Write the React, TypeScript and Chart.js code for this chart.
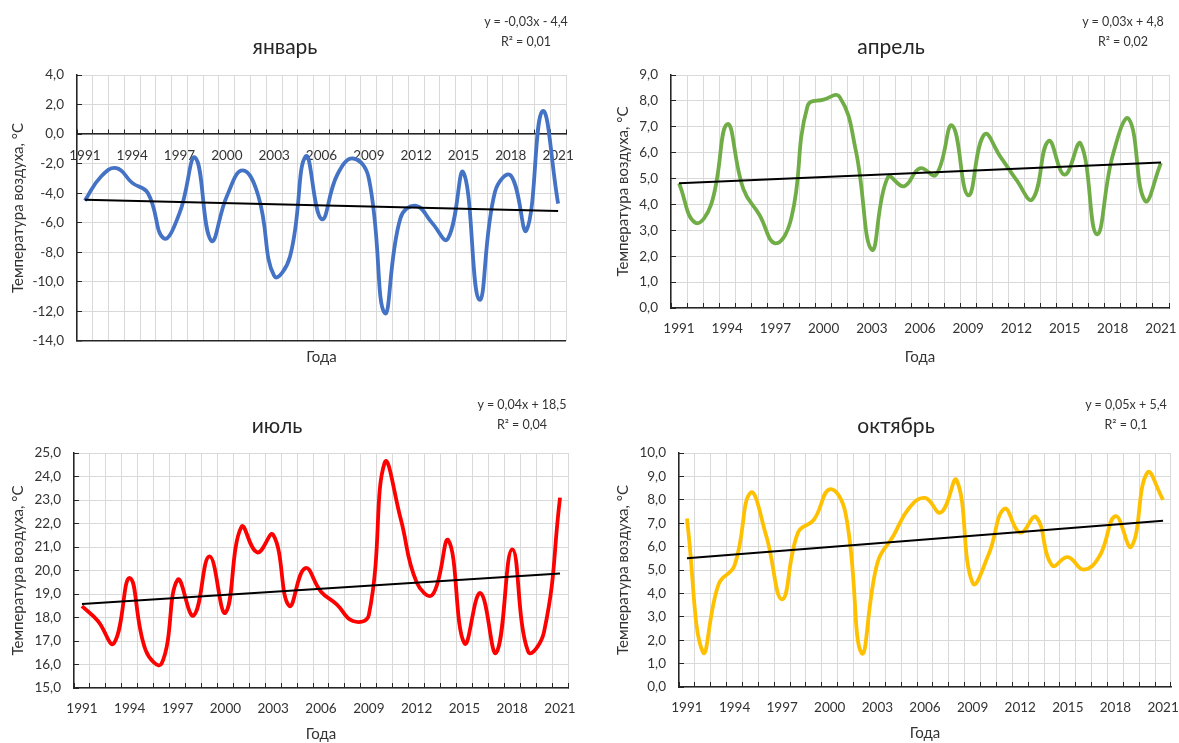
import React, { useEffect, useRef } from 'react';
import { Chart, registerables } from 'chart.js';

Chart.register(...registerables);

const FONT = 'Lato, "Open Sans", sans-serif';

// ---- data ----
const years = [
  '1991', '1992', '1993', '1994', '1995', '1996', '1997', '1998', '1999', '2000',
  '2001', '2002', '2003', '2004', '2005', '2006', '2007', '2008', '2009', '2010',
  '2011', '2012', '2013', '2014', '2015', '2016', '2017', '2018', '2019', '2020', '2021',
];

const janValues = [
  -4.5, -2.9, -2.3, -3.3, -4.0, -7.05, -5.35, -1.6, -7.2, -4.2,
  -2.45, -4.2, -9.6, -8.3, -1.5, -5.75, -2.75, -1.65, -3.0, -12.1,
  -5.7, -4.85, -6.0, -7.1, -2.6, -11.2, -3.9, -2.8, -6.5, 1.55, -4.7,
];
const aprValues = [
  4.82, 3.3, 4.0, 7.1, 4.6, 3.6, 2.5, 3.5, 7.8, 8.05,
  8.15, 6.1, 2.25, 5.05, 4.7, 5.4, 5.15, 7.05, 4.35, 6.7,
  5.85, 4.95, 4.2, 6.45, 5.15, 6.35, 2.85, 5.9, 7.3, 4.15, 5.6,
];
const julValues = [
  18.48, 17.85, 16.9, 19.68, 16.6, 16.04, 19.6, 18.08, 20.6, 18.2,
  21.85, 20.77, 21.52, 18.5, 20.1, 19.1, 18.55, 17.85, 18.1, 24.6,
  22.2, 19.5, 18.97, 21.28, 16.9, 19.04, 16.5, 20.9, 16.55, 17.4, 23.1,
];
const octValues = [
  7.2, 1.5, 4.4, 5.2, 8.3, 6.45, 3.75, 6.6, 7.15, 8.45,
  7.4, 1.45, 5.3, 6.45, 7.65, 8.08, 7.46, 8.83, 4.45, 5.65,
  7.62, 6.6, 7.26, 5.2, 5.55, 5.02, 5.6, 7.3, 6.0, 9.15, 8.0,
];

// linear trend end values (1991, 2021)
const janTrend = [-4.45, -5.2];
const aprTrend = [4.82, 5.62];
const julTrend = [18.57, 19.87];
const octTrend = [5.5, 7.1];

const titles = ['январь', 'апрель', 'июль', 'октябрь'];
const equations = [
  ['y = -0,03x - 4,4', 'R² = 0,01'],
  ['y = 0,03x + 4,8', 'R² = 0,02'],
  ['y = 0,04x + 18,5', 'R² = 0,04'],
  ['y = 0,05x + 5,4', 'R² = 0,1'],
];
const yRanges = [
  [-14, 4, 2],
  [0, 9, 1],
  [15, 25, 1],
  [0, 10, 1],
];

const yTitle = 'Температура воздуха, °C';
const xTitle = 'Года';

// ---- layout ----
const panels = [
  { values: janValues, trend: janTrend, color: '#4472C4', range: yRanges[0], title: titles[0], eq: equations[0],
    x: 0, y: 0, w: 595, h: 372, left: 77, right: 566, top: 75, bottom: 341, atZero: true,
    yTitleX: 18, xTitleY: 357, titleX: 285, titleY: 45, eqX: 526, eqY: 22 },
  { values: aprValues, trend: aprTrend, color: '#70AD47', range: yRanges[1], title: titles[1], eq: equations[1],
    x: 595, y: 0, w: 584, h: 372, left: 76, right: 574, top: 75, bottom: 308, atZero: false,
    yTitleX: 28, xTitleY: 357, titleX: 891, titleY: 45, eqX: 1123, eqY: 22 },
  { values: julValues, trend: julTrend, color: '#FF0000', range: yRanges[2], title: titles[2], eq: equations[2],
    x: 0, y: 372, w: 595, h: 371, left: 74, right: 568, top: 81, bottom: 316, atZero: false,
    yTitleX: 18, xTitleY: 363, titleX: 277, titleY: 424, eqX: 522, eqY: 405 },
  { values: octValues, trend: octTrend, color: '#FFC000', range: yRanges[3], title: titles[3], eq: equations[3],
    x: 595, y: 372, w: 584, h: 371, left: 84, right: 576, top: 81, bottom: 315, atZero: false,
    yTitleX: 28, xTitleY: 361, titleX: 896, titleY: 424, eqX: 1126, eqY: 405 },
];

const fmt = (v: number) => v.toFixed(1).replace('.', ',');
const AXIS = '#262626';
const GRID = '#d9d9d9';
const TEXT = '#333333';

function TempChart({ p }: { p: any }) {
  const ref = useRef<HTMLCanvasElement>(null);
  useEffect(() => {
    const last = years.length - 1;
    const trendData = years.map((_, i) => (i === 0 ? p.trend[0] : i === last ? p.trend[1] : null));
    const [yMin, yMax, yStep] = p.range;
    const titleSize = 15;
    const titleFont = { family: FONT, size: titleSize };
    const titleOffset = titleSize * 1.2 / 2;
    const chart = new Chart(ref.current as HTMLCanvasElement, {
      type: 'line',
      data: {
        labels: years,
        datasets: [
          { data: trendData, borderColor: '#000000', borderWidth: 2, pointRadius: 0, spanGaps: true, tension: 0, fill: false, order: 0 },
          { data: p.values, borderColor: p.color, borderWidth: 3.8, pointRadius: 0, tension: 0.45, fill: false, order: 1 },
        ],
      },
      options: {
        responsive: false,
        animation: false,
        events: [],
        layout: { padding: { left: 0, top: p.top, right: p.w - p.right, bottom: p.atZero ? p.h - p.bottom : 0 } },
        plugins: { legend: { display: false }, tooltip: { enabled: false }, title: { display: false } },
        scales: {
          x: {
            type: 'category',
            offset: true,
            position: p.atZero ? { y: 0 } : 'bottom',
            grid: { offset: true, color: GRID, lineWidth: 1, tickColor: AXIS, tickLength: -5, drawTicks: true },
            border: { color: AXIS, width: 1.5 },
            ticks: {
              autoSkip: false, maxRotation: 0, minRotation: 0,
              padding: p.atZero ? 18 : 18,
              color: TEXT, font: { family: FONT, size: 13.5 },
              callback: (_v: any, i: number) => (i % 3 === 0 ? years[i] : ''),
            },
            title: {
              display: true, text: xTitle, color: TEXT, font: titleFont,
              padding: { top: 0, bottom: p.atZero ? 0 : Math.max(0, p.h - p.xTitleY - titleOffset) },
            },
            afterFit: (s: any) => {
              s.paddingLeft = 0;
              s.paddingRight = 0;
              if (p.atZero) {
                const zeroPix = p.top + (yMax / (yMax - yMin)) * (p.bottom - p.top);
                s.height = p.xTitleY - zeroPix + titleOffset;
              } else {
                s.height = p.h - p.bottom;
              }
            },
          },
          y: {
            min: yMin, max: yMax,
            ticks: { stepSize: yStep, padding: 18, color: TEXT, font: { family: FONT, size: 13.5 }, callback: (v: any) => fmt(Number(v)) },
            grid: {
              color: (c: any) => (p.atZero && c.tick && c.tick.value === yMin ? AXIS : GRID),
              lineWidth: (c: any) => (p.atZero && c.tick && c.tick.value === yMin ? 1.5 : 1),
              tickColor: AXIS, tickLength: -5,
            },
            border: { color: AXIS, width: 1.5 },
            title: { display: true, text: yTitle, color: TEXT, font: titleFont, padding: { top: p.yTitleX - titleOffset, bottom: 0 } },
            afterFit: (s: any) => { s.width = p.left; },
          },
        },
      } as any,
    });
    return () => chart.destroy();
  }, []);
  return (
    <canvas ref={ref} width={p.w} height={p.h}
      style={{ position: 'absolute', left: p.x, top: p.y, width: p.w, height: p.h, display: 'block' }} />
  );
}

const textStyle = (x: number, y: number, size: number, color: string): React.CSSProperties => ({
  position: 'absolute', left: x, top: y, transform: 'translate(-50%, -50%)', whiteSpace: 'nowrap',
  fontFamily: FONT, fontSize: size, color, lineHeight: 1, textAlign: 'center',
});

export default function App() {
  return (
    <div style={{ position: 'fixed', left: 0, top: 0, width: 1179, height: 743, background: '#ffffff', overflow: 'hidden' }}>
      {panels.map((p, i) => <TempChart key={i} p={p} />)}
      {panels.map((p, i) => (
        <React.Fragment key={'t' + i}>
          <div style={textStyle(p.titleX, p.titleY, 21, '#262626')}>{p.title}</div>
          <div style={textStyle(p.eqX, p.eqY, 12.5, TEXT)}>{p.eq[0]}</div>
          <div style={textStyle(p.eqX, p.eqY + 20, 12.5, TEXT)}>{p.eq[1]}</div>
        </React.Fragment>
      ))}
    </div>
  );
}
